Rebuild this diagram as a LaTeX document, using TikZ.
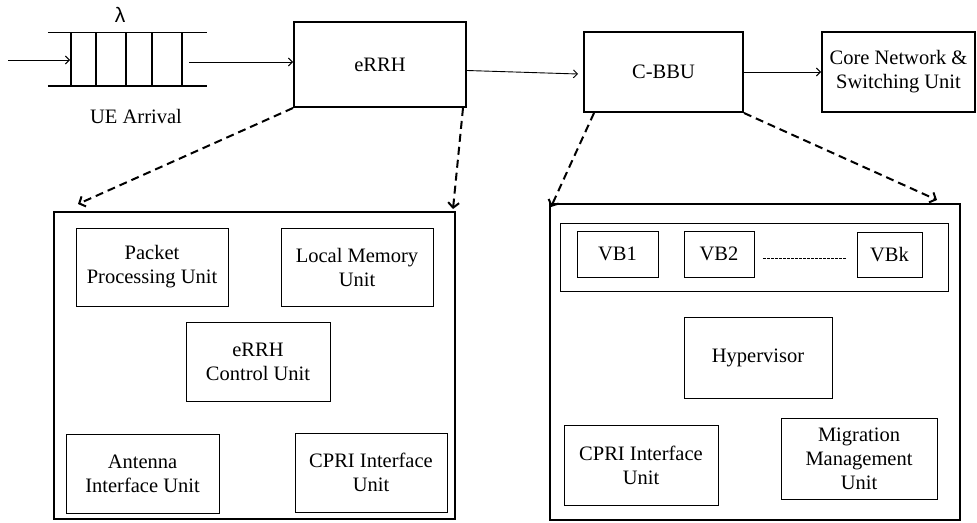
\documentclass[tikz,border=0pt]{standalone}
\usepackage{fontspec}
\setmainfont{Liberation Serif}
\newfontfamily\lamfont{Liberation Sans}
\usetikzlibrary{arrows.meta}
\begin{document}
\begin{tikzpicture}[x=1pt,y=-1pt,
  txt/.style={font=\fontsize{20.5}{24}\selectfont, align=center, inner sep=0pt},
  topbox/.style={txt, draw, line width=2pt, rectangle},
  bigbox/.style={draw, line width=2pt, rectangle, inner sep=0pt},
  unitbox/.style={txt, draw, line width=1pt, rectangle},
  thinarrow/.style={line width=0.9pt, -{Straight Barb[length=4pt,width=8pt]}},
  dasharrow/.style={line width=2pt, dash pattern=on 8pt off 5pt, -{Straight Barb[length=5pt,width=11pt]}}
]
\useasboundingbox (0,0) rectangle (977,522);

% queue
\node[inner sep=0pt, minimum width=159pt, minimum height=53pt] (queue) at (127.5,59.5) {};
\draw[line width=1pt] (queue.north west) -- (queue.north east);
\draw[line width=2pt] (queue.south west) -- (queue.south east);
\foreach \x in {71,96,126,152,182} {
  \draw[line width=1.2pt] (\x,33) -- (\x,86);
}
\node[font=\lamfont\fontsize{21}{24}\selectfont, inner sep=0pt] (lam) at (120,15) {λ};
\node[txt] (ue) at (136,116) {UE Arrival};
\coordinate (qin) at (8,60);
\coordinate (qfirst) at (70,60);
\coordinate (qout) at (189,62);

% top boxes
\node[topbox, minimum width=172pt, minimum height=85pt] (errh) at (380,64.5) {eRRH};
\node[topbox, minimum width=159pt, minimum height=80pt] (cbbu) at (663.5,72) {C-BBU};
\node[topbox, minimum width=153pt, minimum height=80pt] (core) at (898.5,72) {Core Network \&\\Switching Unit};

% top connectors
\draw[thinarrow] (qin) -- (qfirst);
\draw[thinarrow] (qout) -- (qout -| errh.west);
\draw[thinarrow] ([yshift=-6pt]errh.east) -- ([xshift=-5pt,yshift=-2pt]cbbu.west);
\draw[thinarrow] (cbbu.east) -- (core.west);

% left big box
\node[bigbox, minimum width=401pt, minimum height=307pt] (leftbig) at (254.5,365.5) {};
\node[unitbox, minimum width=152pt, minimum height=78pt] (pkt) at (152,267) {Packet\\Processing Unit};
\node[unitbox, minimum width=152pt, minimum height=78pt] (mem) at (357,267) {Local Memory\\Unit};
\node[unitbox, minimum width=144pt, minimum height=79pt] (ctrl) at (258,361.5) {eRRH\\Control Unit};
\node[unitbox, minimum width=153pt, minimum height=79pt] (ant) at (142.5,473.5) {Antenna\\Interface Unit};
\node[unitbox, minimum width=152pt, minimum height=79pt] (cpria) at (371,472.5) {CPRI Interface\\Unit};

% right big box
\node[bigbox, minimum width=410pt, minimum height=316pt] (rightbig) at (755,362) {};
\node[draw, line width=1pt, inner sep=0pt, minimum width=388pt, minimum height=68pt] (vbc) at (754,257) {};
\node[unitbox, minimum width=81pt, minimum height=46pt] (vb1) at (617.5,254) {VB1};
\node[unitbox, minimum width=70pt, minimum height=46pt] (vb2) at (719,254) {VB2};
\node[unitbox, minimum width=65pt, minimum height=45pt] (vbk) at (889.5,254.5) {VBk};
\coordinate (dotA) at (763,258);
\coordinate (dotB) at (846,258);
\draw[line width=0.6pt, dash pattern=on 2.5pt off 1.5pt] (dotA) -- (dotB);
\node[unitbox, minimum width=148pt, minimum height=81pt] (hyp) at (758,357.5) {Hypervisor};
\node[unitbox, minimum width=154pt, minimum height=80pt] (cprib) at (641,465) {CPRI Interface\\Unit};
\node[unitbox, minimum width=156pt, minimum height=81pt] (mig) at (859,458.5) {Migration\\Management\\Unit};

% dashed arrows
\coordinate (t1) at (78,204);
\coordinate (t2) at (453,209);
\coordinate (t3) at (551,207);
\coordinate (t4) at (937,200);
\draw[dasharrow] (errh.south west) -- (t1);
\draw[dasharrow] ([xshift=-4pt]errh.south east) -- (t2);
\draw[dasharrow] ([xshift=11pt]cbbu.south west) -- (t3);
\draw[dasharrow] (cbbu.south east) -- (t4);
\end{tikzpicture}
\end{document}
